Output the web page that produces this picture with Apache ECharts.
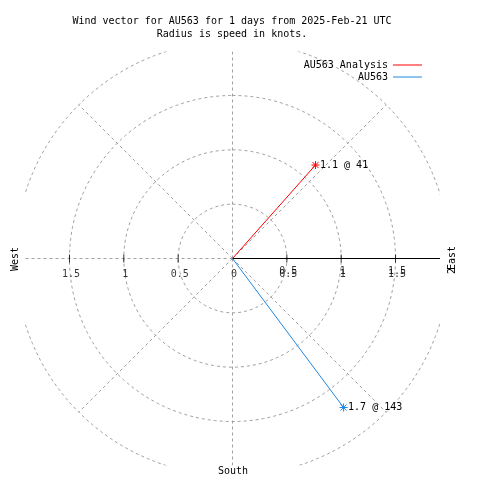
<!DOCTYPE html>
<html>
<head>
<meta charset="utf-8">
<script src="https://cdn.jsdelivr.net/npm/echarts@6/dist/echarts.min.js"></script>
<style>html,body{margin:0;padding:0;background:#fff}#c{width:480px;height:480px}</style>
</head>
<body>
<div id="c"></div>
<script>
// ---- data ----
const titleLines = ['Wind vector for AU563 for 1 days from 2025-Feb-21 UTC', 'Radius is speed in knots.'];
const rings = [0.5, 1, 1.5, 2];
const spokeAngles = [0, 45, 90, 135, 180, 225, 270, 315];
const tickValues = [0.5, 1, 1.5];
const tickLabels = ['0.5', '1', '1.5'];
const vectorNames = ['AU563 Analysis', 'AU563'];
const speeds = [1.15, 1.71];
const directions = [41.6, 143.3];
const vectorColors = ['#ff0000', '#1e88e5'];
const compassLabels = ['West', 'South', 'East'];

// ---- helpers ----
const FONT = 'DejaVu Sans Mono';
const GRAY = '#a0a0a0';
const rad = d => d * Math.PI / 180;
const toXY = (r, deg) => [r * Math.sin(rad(deg)), r * Math.cos(rad(deg))];
const trunc1 = v => (Math.floor(v * 10 + 1e-9) / 10).toFixed(1);
const STAR = 'path://M0,-4L0,4M-4,0L4,0M-3,-3L3,3M-3,3L3,-3';

const series = [];
// rings
rings.forEach(r => {
  const pts = [];
  for (let a = 0; a <= 360; a += 1) pts.push(toXY(r, a));
  series.push({type: 'line', data: pts, symbol: 'none', silent: true, clip: true,
    lineStyle: {color: GRAY, width: 1, type: [3, 3]}, z: 1});
});
// spokes
spokeAngles.forEach(a => {
  series.push({type: 'line', data: [[0, 0], toXY(rings[rings.length - 1], a)], symbol: 'none',
    silent: true, clip: true, lineStyle: {color: GRAY, width: 1, type: [3, 3]}, z: 1});
});
// east axis (solid black)
series.push({type: 'line', data: [[0, 0], toXY(rings[rings.length - 1], 90)], symbol: 'none',
  silent: true, clip: true, lineStyle: {color: '#000', width: 1}, z: 2});
// ticks
const tickPts = [];
tickValues.forEach(v => { tickPts.push([v, 0]); tickPts.push([-v, 0]); });
series.push({type: 'scatter', data: tickPts, symbol: 'rect', symbolSize: [1, 8], silent: true,
  itemStyle: {color: '#000'}, z: 3});
// tick labels
const lblStyle = {show: true, position: 'inside', color: '#000', fontFamily: FONT, fontSize: 10};
const leftLbl = tickValues.map((v, i) => ({value: [-v, 0], name: tickLabels[i]}));
leftLbl.push({value: [0, 0], name: '0'});
const rightLbl = tickValues.map((v, i) => ({value: [v, 0], name: tickLabels[i]}));
series.push({type: 'scatter', data: leftLbl, symbolSize: 1, silent: true, itemStyle: {color: 'rgba(0,0,0,0)'},
  label: Object.assign({}, lblStyle, {offset: [1.5, 16], formatter: p => p.name}), z: 4});
series.push({type: 'scatter', data: rightLbl, symbolSize: 1, silent: true, itemStyle: {color: 'rgba(0,0,0,0)'},
  label: Object.assign({}, lblStyle, {offset: [1.5, 16], formatter: p => p.name}), z: 4});
series.push({type: 'scatter', data: rightLbl, symbolSize: 1, silent: true, itemStyle: {color: 'rgba(0,0,0,0)'},
  label: Object.assign({}, lblStyle, {offset: [1.5, 13], formatter: p => p.name}), z: 4});
// vectors
vectorNames.forEach((name, i) => {
  const end = toXY(speeds[i], directions[i]);
  series.push({
    type: 'line', name: name, color: vectorColors[i], clip: false, z: 10,
    lineStyle: {color: vectorColors[i], width: 1},
    itemStyle: {color: vectorColors[i], borderColor: vectorColors[i], borderWidth: 1},
    data: [
      {value: [0, 0], symbol: 'none'},
      {value: end, symbol: STAR, symbolSize: 8,
       label: {show: true, position: 'right', distance: 0, color: '#000', fontFamily: FONT, fontSize: 10,
         formatter: trunc1(speeds[i]) + ' @ ' + Math.floor(directions[i])}}
    ]
  });
});

const chart = echarts.init(document.getElementById('c'));
const textEl = (x, y, text, rot) => ({type: 'text', x: x, y: y, rotation: rot || 0, silent: true,
  style: {text: text, fill: '#000', font: '10px "' + FONT + '"', align: 'center', verticalAlign: 'middle'}});
const legendBase = {orient: 'vertical', align: 'right', icon: 'rect', right: 53,
  itemWidth: 29, itemHeight: 1, itemStyle: {borderWidth: 0},
  textStyle: {fontFamily: FONT, fontSize: 10, color: '#000'}};
chart.setOption({
  animation: false,
  backgroundColor: '#fff',
  grid: {left: 26, top: 52, width: 413, height: 413},
  xAxis: {type: 'value', min: -1.9, max: 1.9, show: false},
  yAxis: {type: 'value', min: -1.9, max: 1.9, show: false},
  legend: [
    Object.assign({}, legendBase, {data: [vectorNames[0]], top: 55}),
    Object.assign({}, legendBase, {data: [vectorNames[1]], top: 67})
  ],
  graphic: [
    textEl(232, 21, titleLines[0]),
    textEl(232, 34, titleLines[1]),
    textEl(15, 259, compassLabels[0], Math.PI / 2),
    textEl(233, 471, compassLabels[1]),
    textEl(452, 258, compassLabels[2], Math.PI / 2),
    textEl(452, 271, '2', Math.PI / 2)
  ],
  series: series
});
</script>
</body>
</html>
